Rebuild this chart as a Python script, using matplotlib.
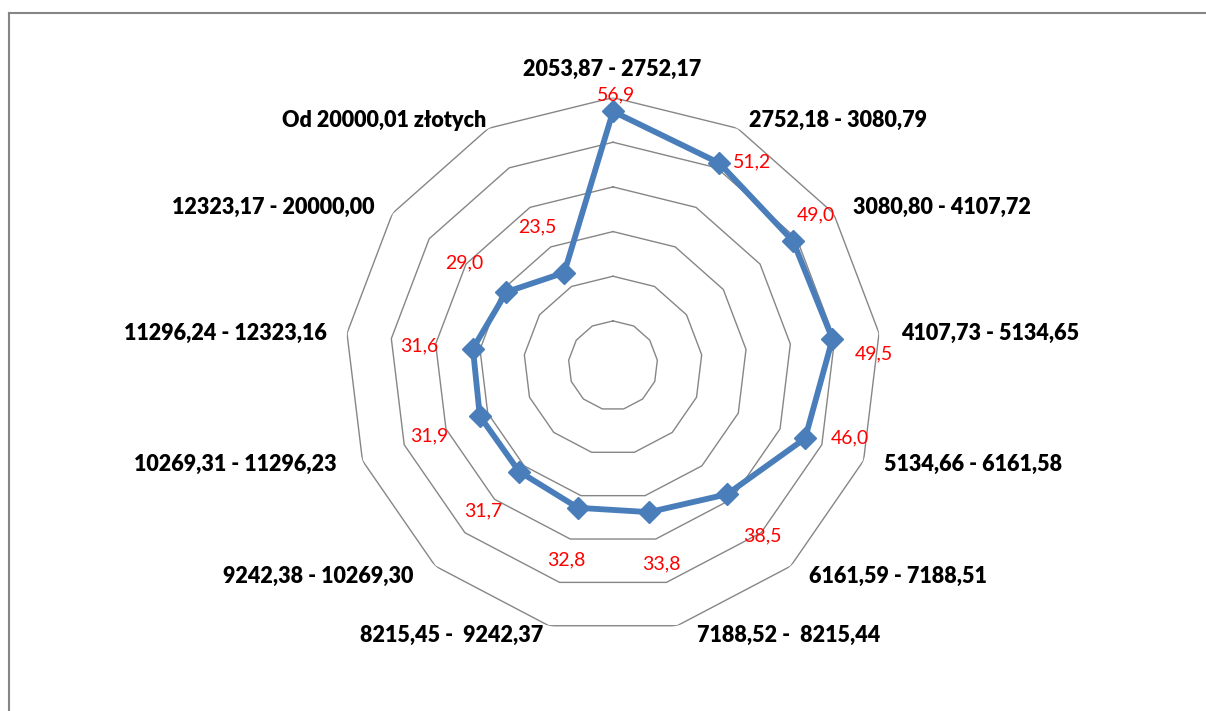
import numpy as np
import matplotlib
matplotlib.use("Agg")
import matplotlib.pyplot as plt
from matplotlib.lines import Line2D

# Income brackets (złoty) and the share for each bracket
categories = [
    "2053,87 - 2752,17",
    "2752,18 - 3080,79",
    "3080,80 - 4107,72",
    "4107,73 - 5134,65",
    "5134,66 - 6161,58",
    "6161,59 - 7188,51",
    "7188,52 -  8215,44",
    "8215,45 -  9242,37",
    "9242,38 - 10269,30",
    "10269,31 - 11296,23",
    "11296,24 - 12323,16",
    "12323,17 - 20000,00",
    "Od 20000,01 złotych",
]
values = [56.9, 51.2, 49.0, 49.5, 46.0, 38.5, 33.8, 32.8, 31.7, 31.9, 31.6, 29.0, 23.5]
ring_levels = [10, 20, 30, 40, 50, 60]

# Layout: pixel offsets of category labels from the outer vertex, and of value labels from the points
cat_offsets = [(-1, 28), (100, 8), (108, 6), (111, 0), (109, -4), (107, -10), (111, -10),
               (-97, -10), (-117, -10), (-127, -4), (-122, 0), (-119, 6), (-104, 8)]
val_offsets = [(3, 17), (33, 1), (23, 26), (41, -15), (45, 1), (35, -42), (12, -52),
               (-12, -52), (-36, -39), (-51, -20), (-54, 3), (-42, 29), (-27, 46)]

line_color = "#4A7EBB"
grid_color = "#868686"

fig = plt.figure(figsize=(12.06, 7.11), dpi=100)
fig.patch.set_facecolor("white")

ax = fig.add_axes([0.2861, 0.1089, 0.4444, 0.7539], projection="polar")
ax.set_theta_zero_location("N")
ax.set_theta_direction(-1)
ax.set_ylim(0, ring_levels[-1])
ax.grid(False)
ax.set_xticks([])
ax.set_yticks([])
ax.spines["polar"].set_visible(False)
ax.patch.set_alpha(0)

n = len(categories)
theta = np.linspace(0, 2 * np.pi, n, endpoint=False)
theta_closed = np.append(theta, theta[0])

# Polygonal grid rings
for lvl in ring_levels:
    ax.plot(theta_closed, [lvl] * (n + 1), color=grid_color, lw=1.0, zorder=1)

# Data series
vals_closed = values + values[:1]
ax.plot(theta_closed, vals_closed, color=line_color, lw=4.2, zorder=3,
        solid_joinstyle="round")
ax.plot(theta, values, linestyle="none", marker="D", markersize=11,
        color=line_color, zorder=4)

# Value labels
for t, v, off in zip(theta, values, val_offsets):
    ax.annotate(f"{v:.1f}".replace(".", ","), xy=(t, v), xytext=off,
                textcoords="offset pixels", ha="center", va="center",
                color="#FF0000", fontsize=14, family="Lato", zorder=5)

# Category labels
for t, lab, off in zip(theta, categories, cat_offsets):
    ax.annotate(lab, xy=(t, ring_levels[-1]), xytext=off,
                textcoords="offset pixels", ha="center", va="center",
                color="black", fontsize=15.5, fontweight="heavy", family="Lato",
                annotation_clip=False)

# Chart area border (left and top edges)
x0 = 9 / 1206
y0 = 1 - 13 / 711
fig.add_artist(Line2D([x0, x0], [0, y0], transform=fig.transFigure,
                      color=grid_color, lw=1.5))
fig.add_artist(Line2D([x0, 1], [y0, y0], transform=fig.transFigure,
                      color=grid_color, lw=1.5))

fig.savefig("out.png", dpi=100, facecolor="white")
